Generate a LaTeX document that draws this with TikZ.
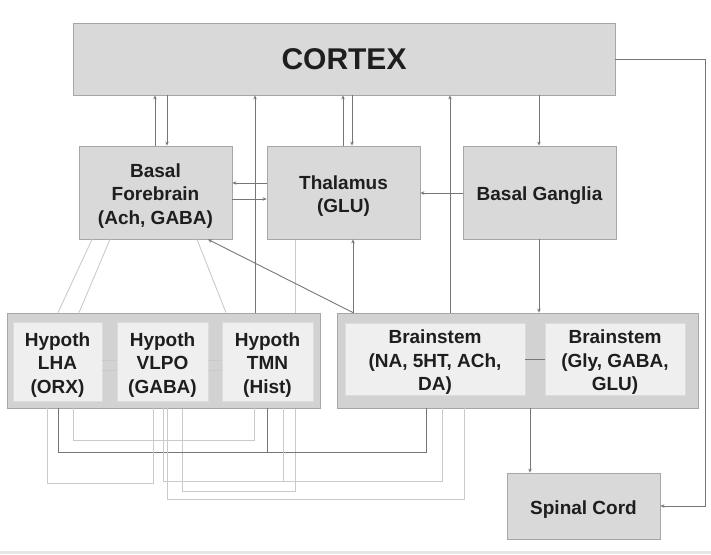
\documentclass[tikz,border=0pt]{standalone}
\usepackage{fontspec}
\setmainfont{Liberation Sans}
\usetikzlibrary{arrows.meta,backgrounds}
\definecolor{boxfill}{HTML}{D9D9D9}
\definecolor{boxline}{HTML}{A6A6A6}
\definecolor{grpfill}{HTML}{D2D2D2}
\definecolor{infill}{HTML}{EFEFEF}
\definecolor{inline}{HTML}{DCDCDC}
\definecolor{dkline}{HTML}{767676}
\definecolor{ltline}{HTML}{CACACA}
\definecolor{txt}{HTML}{1E1E1E}
\definecolor{band}{HTML}{E6E6E6}
\newcommand{\tup}{\rule{0pt}{20.5pt}}
\tikzset{
  box/.style={draw=boxline, fill=boxfill, line width=0.8pt, inner sep=0pt, align=center,
    font=\fontsize{19}{23.5}\selectfont\bfseries, text=txt},
  grp/.style={draw=boxline, fill=grpfill, line width=0.8pt, inner sep=0pt},
  inbox/.style={box, fill=infill, draw=inline},
  dk/.style={draw=dkline, line width=0.9pt},
  lt/.style={draw=ltline, line width=0.9pt},
  arr/.style={dk, -{Stealth[length=4pt,width=3.5pt]}},
}
\begin{document}
\begin{tikzpicture}[x=1pt,y=-1pt]
\useasboundingbox (0,0) rectangle (711,554);
\fill[band] (0,551) rectangle (711,554);
% column / row helper coordinates
\foreach \c in {47,58,73,79,92,110,153,155,163,167,182,197,208,226,254,255,267,283,295,343,352,353,426,442,450,464,530,539,705}
  {\coordinate (c\c) at (\c,0);}
\foreach \r in {183,193,199,360,370,440,452,481,483,491,499}
  {\coordinate (r\r) at (0,\r);}

% boxes
\node[box, minimum width=542pt, minimum height=72pt, font=\fontsize{30}{34}\selectfont\bfseries] (cortex) at (344,59) {CORTEX};
\node[box, minimum width=153pt, minimum height=93pt] (bf) at (155.5,192.5) {\tup Basal\\Forebrain\\(Ach, GABA)};
\node[box, minimum width=153pt, minimum height=93pt] (thal) at (343.5,192.5) {\tup Thalamus\\(GLU)};
\node[box, minimum width=153pt, minimum height=93pt] (bg) at (539.5,192.5) {\tup Basal Ganglia};
\node[grp, minimum width=313pt, minimum height=95pt] (hyp) at (163.5,360.5) {};
\node[inbox, minimum width=89pt, minimum height=79pt] (lha) at (57.5,361.5) {\tup Hypoth\\LHA\\(ORX)};
\node[inbox, minimum width=91pt, minimum height=79pt] (vlpo) at (162.5,361.5) {\tup Hypoth\\VLPO\\(GABA)};
\node[inbox, minimum width=91pt, minimum height=79pt] (tmn) at (267.5,361.5) {\tup Hypoth\\TMN\\(Hist)};
\node[grp, minimum width=361pt, minimum height=95pt] (bsg) at (517.5,360.5) {};
\node[inbox, minimum width=180pt, minimum height=72pt] (bs1) at (435,359) {\tup Brainstem\\(NA, 5HT, ACh,\\DA)};
\node[inbox, minimum width=140pt, minimum height=72pt] (bs2) at (615,359) {\tup Brainstem\\(Gly, GABA,\\GLU)};
\node[box, minimum width=153pt, minimum height=66pt] (spinal) at (583.5,506) {\tup Spinal Cord};

% line passing behind the hypothalamus group
\begin{scope}[on background layer]
\draw[lt] (thal.south -| c295) -- (c295 |- r491) -- (c182 |- r491) -- (hyp.south -| c182);
\end{scope}

% dark connectors
\draw[arr] (bf.north -| c155) -- (cortex.south -| c155);
\draw[arr] (cortex.south -| c167) -- (bf.north -| c167);
\draw[arr] (hyp.north -| c255) -- (cortex.south -| c255);
\draw[arr] (thal.north -| c343) -- (cortex.south -| c343);
\draw[arr] (cortex.south -| c352) -- (thal.north -| c352);
\draw[arr] (bsg.north -| c450) -- (cortex.south -| c450);
\draw[arr] (cortex.south -| c539) -- (bg.north -| c539);
\draw[arr] (cortex.east) -| (c705 |- spinal.east) -- (spinal.east);
\draw[arr] (thal.west |- r183) -- (bf.east |- r183);
\draw[arr] (bf.east |- r199) -- (thal.west |- r199);
\draw[arr] (bg.west |- r193) -- (thal.east |- r193);
\draw[arr] (bsg.north -| c353) -- (thal.south -| c353);
\draw[arr] (bsg.north -| c353) -- (bf.south -| c208);
\draw[arr] (bg.south -| c539) -- (bsg.north -| c539);
\draw[arr] (bsg.south -| c530) -- (spinal.north -| c530);
\draw[dk] (bs1.east) -- (bs2.west);
\draw[dk] (hyp.south -| c58) -- (c58 |- r452) -- (c426 |- r452) -- (bsg.south -| c426);
\draw[dk] (hyp.south -| c267) -- (c267 |- r452);

% light connectors
\draw[lt] (bf.south -| c92) -- (hyp.north -| c58);
\draw[lt] (bf.south -| c110) -- (hyp.north -| c79);
\draw[lt] (bf.south -| c197) -- (hyp.north -| c226);
\draw[lt] (lha.east |- r360) -- (vlpo.west |- r360);
\draw[lt] (lha.east |- r370) -- (vlpo.west |- r370);
\draw[lt] (vlpo.east |- r360) -- (tmn.west |- r360);
\draw[lt] (vlpo.east |- r370) -- (tmn.west |- r370);
\draw[lt] (hyp.south -| c47) -- (c47 |- r483) -- (c153 |- r483) -- (hyp.south -| c153);
\draw[lt] (hyp.south -| c73) -- (c73 |- r440) -- (c254 |- r440) -- (hyp.south -| c254);
\draw[lt] (hyp.south -| c163) -- (c163 |- r481) -- (c442 |- r481) -- (bsg.south -| c442);
\draw[lt] (hyp.south -| c283) -- (c283 |- r481);
\draw[lt] (hyp.south -| c167) -- (c167 |- r499) -- (c464 |- r499) -- (bsg.south -| c464);
\end{tikzpicture}
\end{document}
